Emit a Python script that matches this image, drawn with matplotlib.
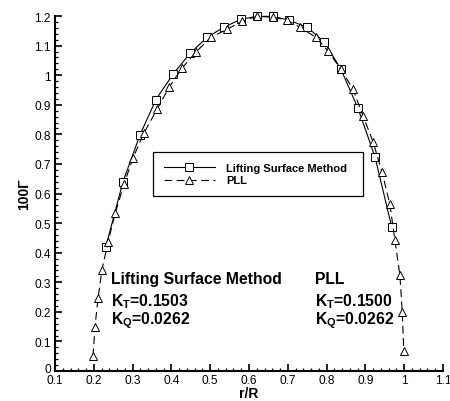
import matplotlib
matplotlib.use("Agg")
import matplotlib.pyplot as plt
from matplotlib.ticker import MultipleLocator
from matplotlib.transforms import ScaledTranslation

plt.rcParams['font.family'] = ['Liberation Sans', 'DejaVu Sans']
plt.rcParams['mathtext.fontset'] = 'custom'
plt.rcParams['mathtext.rm'] = 'Liberation Sans:bold'
plt.rcParams['mathtext.bf'] = 'Liberation Sans:bold'
plt.rcParams['mathtext.it'] = 'Liberation Sans:bold'

# Lifting Surface Method
lsm_r = [0.231, 0.275, 0.319, 0.360, 0.404, 0.448, 0.492, 0.535, 0.579, 0.620,
         0.662, 0.703, 0.750, 0.794, 0.837, 0.881, 0.925, 0.968]
lsm_g = [0.420, 0.639, 0.798, 0.917, 1.003, 1.074, 1.128, 1.162, 1.189, 1.199,
         1.199, 1.186, 1.162, 1.113, 1.020, 0.888, 0.723, 0.486]

# PLL
pll_r = [0.198, 0.203, 0.211, 0.221, 0.237, 0.255, 0.278, 0.301, 0.329, 0.363,
         0.394, 0.427, 0.463, 0.502, 0.543, 0.582, 0.620, 0.662, 0.698, 0.731,
         0.773, 0.804, 0.837, 0.868, 0.894, 0.920, 0.943, 0.963, 0.976, 0.989,
         0.995, 0.999]
pll_g = [0.050, 0.149, 0.246, 0.342, 0.437, 0.533, 0.632, 0.720, 0.804, 0.885,
         0.959, 1.023, 1.078, 1.128, 1.155, 1.182, 1.199, 1.196, 1.186, 1.162,
         1.128, 1.081, 1.020, 0.953, 0.862, 0.774, 0.672, 0.564, 0.443, 0.324,
         0.199, 0.068]

fig = plt.figure(figsize=(4.5, 4.02), dpi=100)
ax = fig.add_axes([0.1222, 0.0746, 0.8622, 0.883])

ax.plot(lsm_r, lsm_g, color='black', lw=0.8, marker='s', ms=5.3,
        mfc='white', mec='black', mew=0.7, label='Lifting Surface Method', clip_on=False)
ax.plot(pll_r, pll_g, color='black', lw=0.8, ls=(0, (7, 4)), marker='^', ms=5.5,
        mfc='white', mec='black', mew=0.7, label='PLL', clip_on=False)

ax.set_xlim(0.1, 1.1)
ax.set_ylim(0, 1.2)
ax.xaxis.set_major_locator(MultipleLocator(0.1))
ax.xaxis.set_minor_locator(MultipleLocator(0.02))
ax.yaxis.set_major_locator(MultipleLocator(0.1))
ax.yaxis.set_minor_locator(MultipleLocator(0.02))

def fmt(v, pos):
    s = f"{v:.1f}"
    if s.endswith(".0"):
        s = s[:-2]
    return s
ax.xaxis.set_major_formatter(plt.FuncFormatter(fmt))
ax.yaxis.set_major_formatter(plt.FuncFormatter(fmt))

for s in ['top', 'right']:
    ax.spines[s].set_visible(False)
for s in ['left', 'bottom']:
    ax.spines[s].set_linewidth(1.5)

ax.tick_params(which='major', direction='in', length=5, width=1.2, labelsize=8.6, pad=2)
ax.tick_params(axis='y', which='major', pad=3)
ax.tick_params(which='minor', direction='in', length=2.5, width=0.9)

ax.set_xlabel('r/R', fontsize=10, fontweight='bold', labelpad=0)
ax.set_ylabel('100Γ', fontsize=10, fontweight='bold', labelpad=2)

# nudge the y "0" label up slightly so it does not collide with the x "0.1" label
fig.canvas.draw()
for lbl in ax.get_yticklabels():
    if lbl.get_text() == '0':
        lbl.set_transform(lbl.get_transform() + ScaledTranslation(0, 2.5 / 72, fig.dpi_scale_trans))

leg = ax.legend(loc='center left', bbox_to_anchor=(0.2526, 0.49, 0.541, 0.13),
                mode='expand', prop={'weight': 'bold', 'size': 8},
                frameon=True, fancybox=False, edgecolor='black', framealpha=1,
                handlelength=4.6, handletextpad=1.0, borderpad=0.95,
                labelspacing=0.25, borderaxespad=0, markerscale=1.0)
leg.get_frame().set_linewidth(0.9)

fs = 11.3
ax.text(0.244, 0.337, 'Lifting Surface Method', fontsize=fs, fontweight='bold', va='top')
ax.text(0.244, 0.270, r'K$_{\mathrm{T}}$=0.1503', fontsize=fs, fontweight='bold', va='top')
ax.text(0.244, 0.207, r'K$_{\mathrm{Q}}$=0.0262', fontsize=fs, fontweight='bold', va='top')
ax.text(0.77, 0.337, 'PLL', fontsize=fs, fontweight='bold', va='top')
ax.text(0.77, 0.270, r'K$_{\mathrm{T}}$=0.1500', fontsize=fs, fontweight='bold', va='top')
ax.text(0.77, 0.207, r'K$_{\mathrm{Q}}$=0.0262', fontsize=fs, fontweight='bold', va='top')

fig.savefig('out.png', dpi=100)
